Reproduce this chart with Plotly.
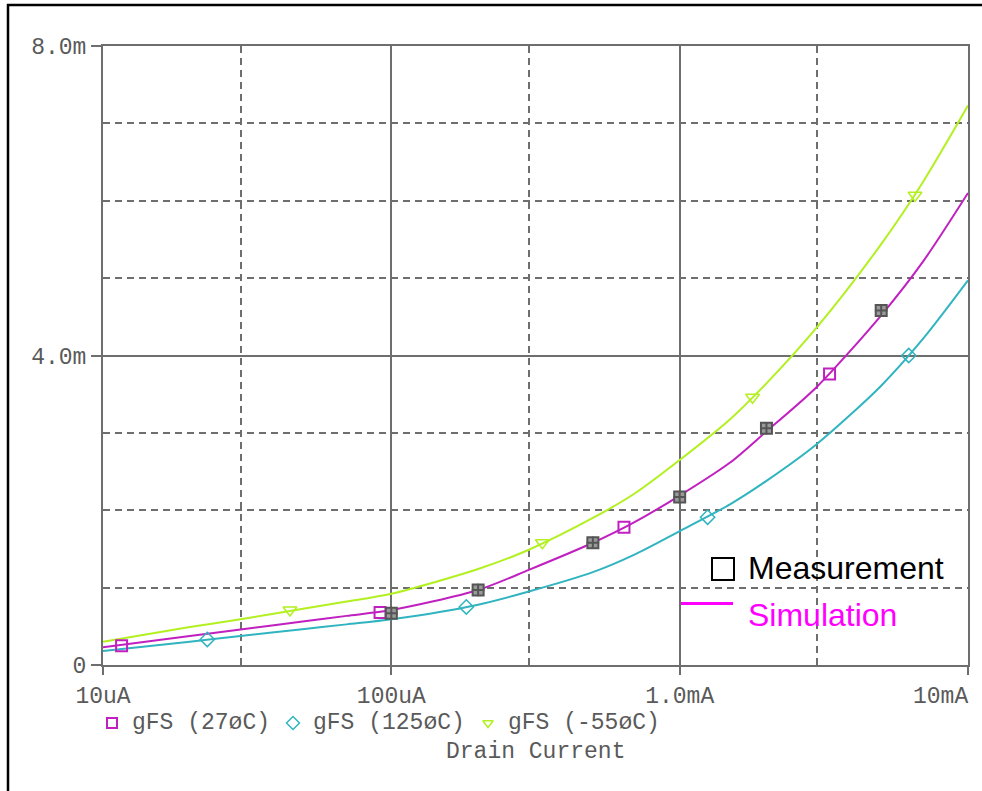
import math
import plotly.graph_objects as go

# ---------------- data (drain current in A, gFS in mS) ----------------
i_27 = [1e-5, 2e-5, 3e-5, 5e-5, 7e-5, 1e-4, 2e-4, 3e-4, 5e-4, 7e-4,
        1e-3, 1.5e-3, 2e-3, 3e-3, 5e-3, 7e-3, 1e-2]
g_27 = [0.23, 0.375, 0.46, 0.565, 0.635, 0.71, 0.97, 1.23, 1.58, 1.85,
        2.19, 2.62, 3.02, 3.60, 4.52, 5.22, 6.10]

i_125 = [1e-5, 2e-5, 3e-5, 5e-5, 7e-5, 1e-4, 2e-4, 3e-4, 5e-4, 7e-4,
         1e-3, 1.5e-3, 2e-3, 3e-3, 5e-3, 7e-3, 1e-2]
g_125 = [0.18, 0.30, 0.375, 0.465, 0.525, 0.59, 0.78, 0.95, 1.20, 1.43,
         1.73, 2.08, 2.38, 2.86, 3.61, 4.22, 4.97]

i_m55 = [1e-5, 2e-5, 3e-5, 5e-5, 7e-5, 1e-4, 2e-4, 3e-4, 5e-4, 7e-4,
         1e-3, 1.5e-3, 2e-3, 3e-3, 5e-3, 7e-3, 1e-2]
g_m55 = [0.30, 0.49, 0.59, 0.73, 0.82, 0.92, 1.24, 1.49, 1.90, 2.22,
         2.65, 3.18, 3.64, 4.37, 5.44, 6.25, 7.23]

# trace marker positions (PSpice symbols)
mk_i_27 = [1.16e-5, 9.14e-5, 6.41e-4, 3.31e-3]
mk_g_27 = [0.25, 0.68, 1.78, 3.76]
mk_i_125 = [2.3e-5, 1.82e-4, 1.25e-3, 6.23e-3]
mk_g_125 = [0.33, 0.75, 1.91, 4.0]
mk_i_m55 = [4.45e-5, 3.34e-4, 1.79e-3, 6.55e-3]
mk_g_m55 = [0.71, 1.58, 3.46, 6.07]

# measurement points
meas_i = [1e-4, 2e-4, 5e-4, 1e-3, 2e-3, 5e-3, 1e-2]
meas_g = [0.67, 0.97, 1.58, 2.17, 3.06, 4.58, 5.97]

x_tickvals = [1e-5, 1e-4, 1e-3, 1e-2]
x_ticktext = ["10uA", "100uA", "1.0mA", "10mA"]
x_minor = [3e-5, 3e-4, 3e-3]
y_tickvals = [0, 4, 8]
y_ticktext = ["0", "4.0m", "8.0m"]
y_minor = [1, 2, 3, 5, 6, 7]

legend_labels = ["gFS (27øC)", "gFS (125øC)", "gFS (-55øC)"]
x_title = "Drain Current"
note_labels = ["Measurement", "Simulation"]

# ---------------- styles ----------------
C27 = "#c020c0"
C125 = "#30b4c0"
CM55 = "#b2f020"
GRID = "#6e6e6e"
TXT = "#5a5a5a"
MONO = "Liberation Mono, Courier New, monospace"
SANS = "Liberation Sans, Arial, sans-serif"
FS = 23
W, H = 982, 791

fig = go.Figure()

for xs, ys, c in [(i_125, g_125, C125), (i_27, g_27, C27), (i_m55, g_m55, CM55)]:
    fig.add_trace(go.Scatter(x=xs, y=ys, mode="lines",
                             line=dict(color=c, width=2, shape="spline", smoothing=0.8),
                             showlegend=False, hoverinfo="skip"))

fig.add_trace(go.Scatter(x=mk_i_27, y=mk_g_27, mode="markers",
                         marker=dict(symbol="square-open", size=11, color=C27, line=dict(width=2, color=C27)),
                         showlegend=False))
fig.add_trace(go.Scatter(x=mk_i_125, y=mk_g_125, mode="markers",
                         marker=dict(symbol="diamond-open", size=11, color=C125, line=dict(width=1.5, color=C125)),
                         showlegend=False))
fig.add_trace(go.Scatter(x=mk_i_m55, y=mk_g_m55, mode="markers",
                         marker=dict(symbol="triangle-down-open", size=12, color=CM55, line=dict(width=1.5, color=CM55)),
                         showlegend=False))
# measurement markers: grey square with cross
fig.add_trace(go.Scatter(x=meas_i, y=meas_g, mode="markers",
                         marker=dict(symbol="square", size=11, color="#9a9a9a", line=dict(width=2, color="#555555")),
                         showlegend=False, cliponaxis=False))
fig.add_trace(go.Scatter(x=meas_i, y=meas_g, mode="markers",
                         marker=dict(symbol="cross-thin", size=9, color="#555555", line=dict(width=2, color="#555555")),
                         showlegend=False, cliponaxis=False))

# ---------------- overlay pixel axes for legend / notes ----------------
leg_y = 723
fig.add_trace(go.Scatter(x=[112], y=[leg_y], xaxis="x2", yaxis="y2", mode="markers",
                         marker=dict(symbol="square-open", size=10, color=C27, line=dict(width=2, color=C27)),
                         showlegend=False, hoverinfo="skip"))
fig.add_trace(go.Scatter(x=[293], y=[leg_y], xaxis="x2", yaxis="y2", mode="markers",
                         marker=dict(symbol="diamond-open", size=10, color=C125, line=dict(width=1.5, color=C125)),
                         showlegend=False, hoverinfo="skip"))
fig.add_trace(go.Scatter(x=[488], y=[leg_y], xaxis="x2", yaxis="y2", mode="markers",
                         marker=dict(symbol="triangle-down-open", size=9, color=CM55, line=dict(width=1.5, color=CM55)),
                         showlegend=False, hoverinfo="skip"))

annotations = []
for x0, t in zip([130, 311, 506], legend_labels):
    annotations.append(dict(x=x0, y=leg_y, xref="x2", yref="y2", text=t, showarrow=False,
                            xanchor="left", yanchor="middle", font=dict(family=MONO, size=FS, color=TXT)))
annotations.append(dict(x=535, y=752, xref="x2", yref="y2", text=x_title, showarrow=False,
                        xanchor="center", yanchor="middle", font=dict(family=MONO, size=FS, color=TXT)))
# last x tick label is right-aligned to the axis end (as in the reference)
annotations.append(dict(x=math.log10(x_tickvals[-1]), y=697, xref="x", yref="y2", text=x_ticktext[-1],
                        showarrow=False, xanchor="right", yanchor="middle", xshift=2,
                        font=dict(family=MONO, size=FS, color=TXT)))
annotations.append(dict(x=746, y=568, xref="x2", yref="y2", text=note_labels[0], showarrow=False,
                        xanchor="left", yanchor="middle", font=dict(family=SANS, size=32, color="#000000")))
annotations.append(dict(x=746, y=615, xref="x2", yref="y2", text=note_labels[1], showarrow=False,
                        xanchor="left", yanchor="middle", font=dict(family=SANS, size=32, color="#ff00ff")))

shapes = [
    # outer black frame (extends past right/bottom edge)
    dict(type="rect", xref="x2", yref="y2", x0=8, y0=5, x1=1000, y1=810, line=dict(color="#000000", width=2.5)),
    # measurement key square
    dict(type="rect", xref="x2", yref="y2", x0=712, y0=558, x1=734, y1=580, line=dict(color="#000000", width=2)),
    # simulation key line
    dict(type="line", xref="x2", yref="y2", x0=681, y0=603.5, x1=733, y1=603.5, line=dict(color="#ff00ff", width=3)),
]

fig.update_layout(
    width=W, height=H,
    margin=dict(l=0, r=0, t=0, b=0, autoexpand=False),
    paper_bgcolor="white", plot_bgcolor="rgba(0,0,0,0)",
    showlegend=False,
    annotations=annotations, shapes=shapes,
    xaxis=dict(type="log", domain=[103 / W, 968 / W], range=[-5, -2],
               tickvals=x_tickvals, ticktext=x_ticktext[:-1] + [""],
               tickfont=dict(family=MONO, size=FS, color=TXT),
               ticks="outside", ticklen=8, tickwidth=2, tickcolor=GRID,
               ticklabelstandoff=0,
               showgrid=True, gridcolor=GRID, gridwidth=2,
               minor=dict(tickvals=x_minor, showgrid=True, gridcolor=GRID, gridwidth=2,
                          griddash="7px,5px", ticks=""),
               showline=True, mirror=True, linecolor=GRID, linewidth=2, zeroline=False),
    yaxis=dict(domain=[1 - 665 / H, 1 - 46 / H], range=[0, 8],
               tickvals=y_tickvals, ticktext=y_ticktext,
               tickfont=dict(family=MONO, size=FS, color=TXT),
               ticks="outside", ticklen=10, tickwidth=2, tickcolor=GRID,
               showgrid=True, gridcolor=GRID, gridwidth=2,
               minor=dict(tickvals=y_minor, showgrid=True, gridcolor=GRID, gridwidth=2,
                          griddash="7px,5px", ticks=""),
               showline=True, mirror=True, linecolor=GRID, linewidth=2, zeroline=False),
    xaxis2=dict(domain=[0, 1], range=[0, W], visible=False, anchor="y2", fixedrange=True),
    yaxis2=dict(domain=[0, 1], range=[H, 0], visible=False, anchor="x2", fixedrange=True),
)

fig.write_html("out.html", config={"displayModeBar": False},
               post_script="document.body.style.margin='0px';")
